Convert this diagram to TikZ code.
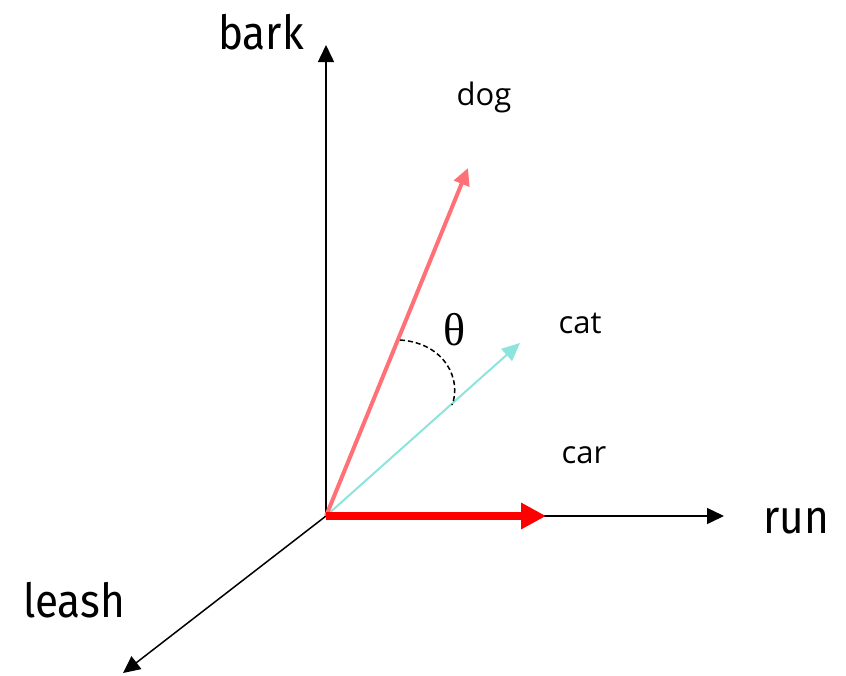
\documentclass[tikz,border=0pt]{standalone}
\usepackage{fontspec}
\setmainfont{Open Sans}
\newfontfamily\axisfont[FakeStretch=0.9]{Fira Sans}
\newfontfamily\greekfont{Liberation Serif}
\usetikzlibrary{arrows.meta}
\definecolor{dogpink}{HTML}{FF7077}
\definecolor{catcyan}{HTML}{8DE4DC}
\definecolor{runred}{HTML}{FF0000}

\begin{document}
\begin{tikzpicture}[
  x=1pt, y=-1pt,
  axis/.style  = {-{Triangle[length=17pt, width=16pt]}, draw=black, line width=1.5pt},
  dogvec/.style = {-{Triangle[length=17pt, width=16pt]}, draw=dogpink, line width=4pt},
  catvec/.style = {-{Triangle[length=18pt, width=16pt]}, draw=catcyan, line width=2pt},
  runvec/.style = {-{Triangle[length=25pt, width=25pt]}, draw=runred, line width=8pt},
  angarc/.style = {draw=black, line width=1.5pt, dash pattern=on 5pt off 3pt},
  axlbl/.style = {font=\axisfont\fontsize{47}{47}\selectfont, anchor=base, inner sep=0pt},
  wrd/.style   = {font=\fontsize{31}{31}\selectfont, anchor=base, inner sep=0pt},
]
\useasboundingbox (0,0) rectangle (846,675);

% --- origin and axis ends ------------------------------------------------------------------------
\coordinate (o) at (326,516);
\coordinate (barkend)  at (326,45);
\coordinate (runend)   at (724,516);
\coordinate (leashend) at (123,673);

% --- word vectors --------------------------------------------------------------------------------
\coordinate (dogend) at (468,168);
\coordinate (catend) at (520,343);
\coordinate (carend) at (546,516);

% --- axes ----------------------------------------------------------------------------------------
\draw[axis] (o) -- (barkend);
\draw[axis] (o) -- (runend);
\draw[axis] (o) -- (leashend);

\node[axlbl] (bark)  at (261,49)  {bark};
\node[axlbl] (run)   at (796,533) {run};
\node[axlbl] (leash) at (74,617)  {leash};

% --- vectors -------------------------------------------------------------------------------------
\draw[catvec] (o) -- (catend);
\draw[dogvec] (o) -- (dogend);
\draw[runvec] (o) -- (carend);

\node[wrd] (dog) at (484,105) {dog};
\node[wrd] (cat) at (580,333) {cat};
\node[wrd] (car) at (584,463) {car};

% --- the angle between dog and cat ---------------------------------------------------------------
\coordinate (arcdog) at (400,340);
\coordinate (arccat) at (452,405);
\draw[angarc] (arcdog) .. controls (445,343) and (462,380) .. (arccat);
\node[font=\greekfont\fontsize{46}{46}\selectfont, anchor=base, inner sep=0pt]
  (theta) at (455,345) {θ};

\end{tikzpicture}
\end{document}
